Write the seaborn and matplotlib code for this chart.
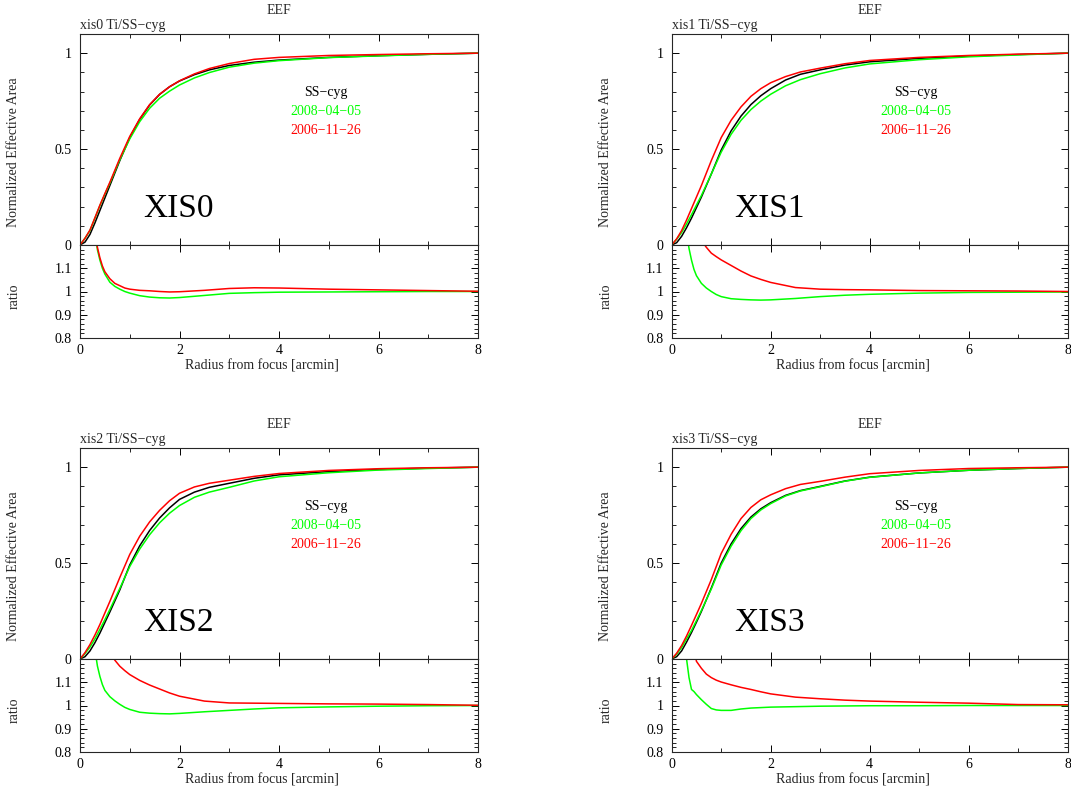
import numpy as np
import pandas as pd
import matplotlib
matplotlib.use("Agg")
import matplotlib.pyplot as plt
import matplotlib.transforms as mtrans
from matplotlib.ticker import MultipleLocator, FixedLocator, FuncFormatter
import seaborn as sns

# ---- data ----
radius = [0, 0.1, 0.2, 0.3, 0.4, 0.5, 0.6, 0.8, 1.0, 1.2, 1.4, 1.6, 1.8, 2.0,
          2.3, 2.6, 3.0, 3.5, 4.0, 5.0, 6.0, 7.0, 8.0]

xis0_model = [0, 0.015, 0.055, 0.115, 0.18, 0.245, 0.31, 0.44, 0.56, 0.655, 0.73, 0.785,
              0.825, 0.855, 0.888, 0.913, 0.936, 0.953, 0.964, 0.978, 0.987, 0.994, 1.0]
xis0_2008 = [0, 0.035, 0.075, 0.14, 0.205, 0.265, 0.322, 0.444, 0.553, 0.643, 0.713, 0.765,
             0.802, 0.834, 0.871, 0.899, 0.927, 0.948, 0.961, 0.977, 0.986, 0.994, 1.0]
xis0_2006 = [0, 0.035, 0.078, 0.142, 0.208, 0.268, 0.327, 0.452, 0.566, 0.658, 0.732, 0.786,
             0.825, 0.856, 0.892, 0.92, 0.946, 0.968, 0.978, 0.988, 0.993, 0.997, 1.0]

xis1_model = [0, 0.012, 0.045, 0.09, 0.14, 0.195, 0.25, 0.37, 0.495, 0.595, 0.672, 0.732,
              0.778, 0.815, 0.86, 0.89, 0.913, 0.938, 0.955, 0.973, 0.985, 0.993, 1.0]
xis1_2008 = [0, 0.03, 0.065, 0.11, 0.158, 0.208, 0.258, 0.37, 0.484, 0.577, 0.65, 0.706,
             0.75, 0.786, 0.83, 0.862, 0.893, 0.923, 0.944, 0.966, 0.981, 0.991, 1.0]
xis1_2006 = [0, 0.032, 0.075, 0.13, 0.19, 0.25, 0.31, 0.44, 0.56, 0.65, 0.72, 0.775,
             0.815, 0.846, 0.878, 0.902, 0.922, 0.945, 0.962, 0.978, 0.988, 0.995, 1.0]

xis2_model = [0, 0.012, 0.042, 0.085, 0.135, 0.19, 0.245, 0.36, 0.49, 0.59, 0.67, 0.735,
              0.788, 0.832, 0.87, 0.895, 0.916, 0.942, 0.96, 0.977, 0.988, 0.995, 1.0]
xis2_2008 = [0, 0.028, 0.062, 0.105, 0.155, 0.205, 0.258, 0.368, 0.482, 0.573, 0.648, 0.71,
             0.76, 0.8, 0.843, 0.87, 0.895, 0.928, 0.95, 0.971, 0.985, 0.993, 1.0]
xis2_2006 = [0, 0.033, 0.075, 0.125, 0.18, 0.24, 0.3, 0.425, 0.545, 0.64, 0.715, 0.775,
             0.825, 0.864, 0.897, 0.916, 0.932, 0.952, 0.967, 0.983, 0.992, 0.997, 1.0]

xis3_model = [0, 0.012, 0.042, 0.088, 0.138, 0.192, 0.248, 0.37, 0.5, 0.6, 0.68, 0.74,
              0.783, 0.815, 0.853, 0.878, 0.9, 0.928, 0.948, 0.97, 0.984, 0.993, 1.0]
xis3_2008 = [0, 0.025, 0.06, 0.105, 0.148, 0.2, 0.253, 0.365, 0.49, 0.588, 0.669, 0.732,
             0.777, 0.81, 0.85, 0.876, 0.898, 0.927, 0.947, 0.97, 0.984, 0.993, 1.0]
xis3_2006 = [0, 0.03, 0.07, 0.12, 0.175, 0.232, 0.29, 0.414, 0.55, 0.65, 0.732, 0.79,
             0.83, 0.856, 0.888, 0.91, 0.926, 0.948, 0.966, 0.983, 0.993, 0.997, 1.0]

ratio_r = [0.1, 0.2, 0.3, 0.35, 0.4, 0.45, 0.5, 0.6, 0.7, 0.8, 0.9, 1.0, 1.2, 1.4, 1.6,
           1.8, 2.0, 2.5, 3.0, 3.5, 4.0, 5.0, 6.0, 7.0, 8.0]

xis0_ratio_2008 = [2.5, 1.6, 1.25, 1.18, 1.135, 1.1, 1.075, 1.04, 1.022, 1.01, 1.0, 0.993, 0.982,
                   0.976, 0.973, 0.972, 0.974, 0.983, 0.992, 0.995, 0.997, 0.998, 0.999, 1.0, 1.0]
xis0_ratio_2006 = [2.5, 1.6, 1.26, 1.19, 1.145, 1.11, 1.085, 1.055, 1.035, 1.025, 1.015, 1.01, 1.005,
                   1.003, 1.0, 0.998, 0.999, 1.005, 1.013, 1.016, 1.015, 1.01, 1.007, 1.004, 1.001]

xis1_ratio_2008 = [2.5, 1.6, 1.26, 1.185, 1.135, 1.095, 1.068, 1.035, 1.015, 1.0, 0.987, 0.978, 0.969,
                   0.966, 0.964, 0.963, 0.964, 0.97, 0.978, 0.984, 0.988, 0.993, 0.996, 0.997, 0.998]
xis1_ratio_2006 = [3.0, 2.2, 1.8, 1.65, 1.52, 1.43, 1.35, 1.22, 1.19, 1.165, 1.15, 1.136, 1.112,
                   1.088, 1.067, 1.052, 1.039, 1.017, 1.01, 1.008, 1.007, 1.004, 1.003, 1.002, 1.0]

xis2_ratio_2008 = [2.5, 1.6, 1.24, 1.17, 1.125, 1.09, 1.065, 1.038, 1.02, 1.005, 0.992, 0.983, 0.971,
                   0.967, 0.965, 0.964, 0.966, 0.973, 0.979, 0.985, 0.99, 0.994, 0.997, 0.999, 1.0]
xis2_ratio_2006 = [3.0, 2.2, 1.8, 1.65, 1.52, 1.43, 1.35, 1.23, 1.195, 1.169, 1.15, 1.133, 1.108,
                   1.088, 1.071, 1.054, 1.04, 1.019, 1.011, 1.01, 1.009, 1.007, 1.006, 1.004, 1.001]

xis3_ratio_2008 = [2.5, 1.7, 1.2, 1.12, 1.069, 1.06, 1.047, 1.025, 1.005, 0.987, 0.981, 0.979, 0.979,
                   0.985, 0.989, 0.991, 0.993, 0.995, 0.997, 0.998, 0.999, 0.999, 1.0, 1.0, 1.0]
xis3_ratio_2006 = [3.0, 2.2, 1.6, 1.45, 1.33, 1.24, 1.19, 1.16, 1.135, 1.12, 1.109, 1.101, 1.089,
                   1.078, 1.069, 1.059, 1.05, 1.036, 1.029, 1.023, 1.019, 1.014, 1.01, 1.004, 1.003]

panels = [
    ("xis0", "XIS0", xis0_model, xis0_2008, xis0_2006, xis0_ratio_2008, xis0_ratio_2006),
    ("xis1", "XIS1", xis1_model, xis1_2008, xis1_2006, xis1_ratio_2008, xis1_ratio_2006),
    ("xis2", "XIS2", xis2_model, xis2_2008, xis2_2006, xis2_ratio_2008, xis2_ratio_2006),
    ("xis3", "XIS3", xis3_model, xis3_2008, xis3_2006, xis3_ratio_2008, xis3_ratio_2006),
]

GREEN = "#00ff00"
RED = "#ff0000"

sns.set_style("ticks")
plt.rcParams["font.family"] = ["Liberation Serif", "DejaVu Serif"]
plt.rcParams["font.size"] = 10
plt.rcParams["axes.linewidth"] = 0.8

W, H = 1071, 791
fig = plt.figure(figsize=(W / 100, H / 100), dpi=100)

# pixel geometry of the boxes: (left, right) per column, (top, mid, bottom) per row
cols = [(80, 478), (671.7, 1067.7)]
rows = [(34, 245, 338), (448, 659, 752)]

fmt = FuncFormatter(lambda v, p: "%g" % round(v, 3))


def style_ticks(ax):
    ax.tick_params(which="both", direction="in", top=True, right=True, colors="black",
                   labelsize=10, pad=4)
    ax.tick_params(axis="y", which="both", pad=6)
    ax.tick_params(which="major", length=5, width=0.7)
    ax.tick_params(which="minor", length=3, width=0.6)


for i, (name, big, model, d2008, d2006, r2008, r2006) in enumerate(panels):
    (l, r) = cols[i % 2]
    (t, m, b) = rows[i // 2]
    ax = fig.add_axes([l / W, 1 - m / H, (r - l) / W, (m - t) / H])
    axr = fig.add_axes([l / W, 1 - b / H, (r - l) / W, (b - m) / H])

    sns.lineplot(x=radius, y=model, ax=ax, color="black", linewidth=1.1)
    sns.lineplot(x=radius, y=d2008, ax=ax, color=GREEN, linewidth=1.1)
    sns.lineplot(x=radius, y=d2006, ax=ax, color=RED, linewidth=1.1)

    sns.lineplot(x=ratio_r, y=r2008, ax=axr, color=GREEN, linewidth=1.1)
    sns.lineplot(x=ratio_r, y=r2006, ax=axr, color=RED, linewidth=1.1)

    ax.set_xlim(0, 8)
    ax.set_ylim(0, 1.1)
    ax.xaxis.set_major_locator(MultipleLocator(2))
    ax.xaxis.set_minor_locator(MultipleLocator(1))
    ax.yaxis.set_major_locator(FixedLocator([0, 0.5, 1.0]))
    ax.yaxis.set_minor_locator(MultipleLocator(0.1))
    ax.yaxis.set_major_formatter(fmt)
    ax.tick_params(labelbottom=False)
    style_ticks(ax)

    axr.set_xlim(0, 8)
    axr.set_ylim(0.8, 1.2)
    axr.xaxis.set_major_locator(MultipleLocator(2))
    axr.xaxis.set_minor_locator(MultipleLocator(1))
    axr.yaxis.set_major_locator(FixedLocator([0.8, 0.9, 1.0, 1.1]))
    axr.yaxis.set_minor_locator(MultipleLocator(0.02))
    axr.yaxis.set_major_formatter(fmt)
    axr.xaxis.set_major_formatter(fmt)
    style_ticks(axr)

    ax.set_xlabel("")
    ax.set_ylabel("Normalized Effective Area", fontsize=10)
    ax.yaxis.set_label_coords(-0.15, 0.44)
    axr.set_ylabel("ratio", fontsize=10)
    axr.yaxis.set_label_coords(-0.15, 0.45)
    axr.set_xlabel("Radius from focus [arcmin]", fontsize=10)
    axr.xaxis.set_label_coords(0.457, -0.225)

    ax.text(0.5, 1.0, "EEF", fontsize=10, ha="center", va="baseline",
            transform=mtrans.offset_copy(ax.transAxes, fig=fig, y=20, units="dots"))
    ax.text(0.0, 1.0, name + " Ti/SS\u2212cyg", fontsize=10, ha="left", va="baseline",
            transform=mtrans.offset_copy(ax.transAxes, fig=fig, y=5, units="dots"))

    ax.text(4.94, 0.776, "SS\u2212cyg", color="black", fontsize=10, ha="center", va="baseline")
    ax.text(4.94, 0.679, "2008\u221204\u221205", color=GREEN, fontsize=10, ha="center", va="baseline")
    ax.text(4.94, 0.581, "2006\u221211\u221226", color=RED, fontsize=10, ha="center", va="baseline")
    ax.text(1.27, 0.145, big, color="black", fontsize=24, ha="left", va="baseline")

fig.savefig("out.png", dpi=100)
